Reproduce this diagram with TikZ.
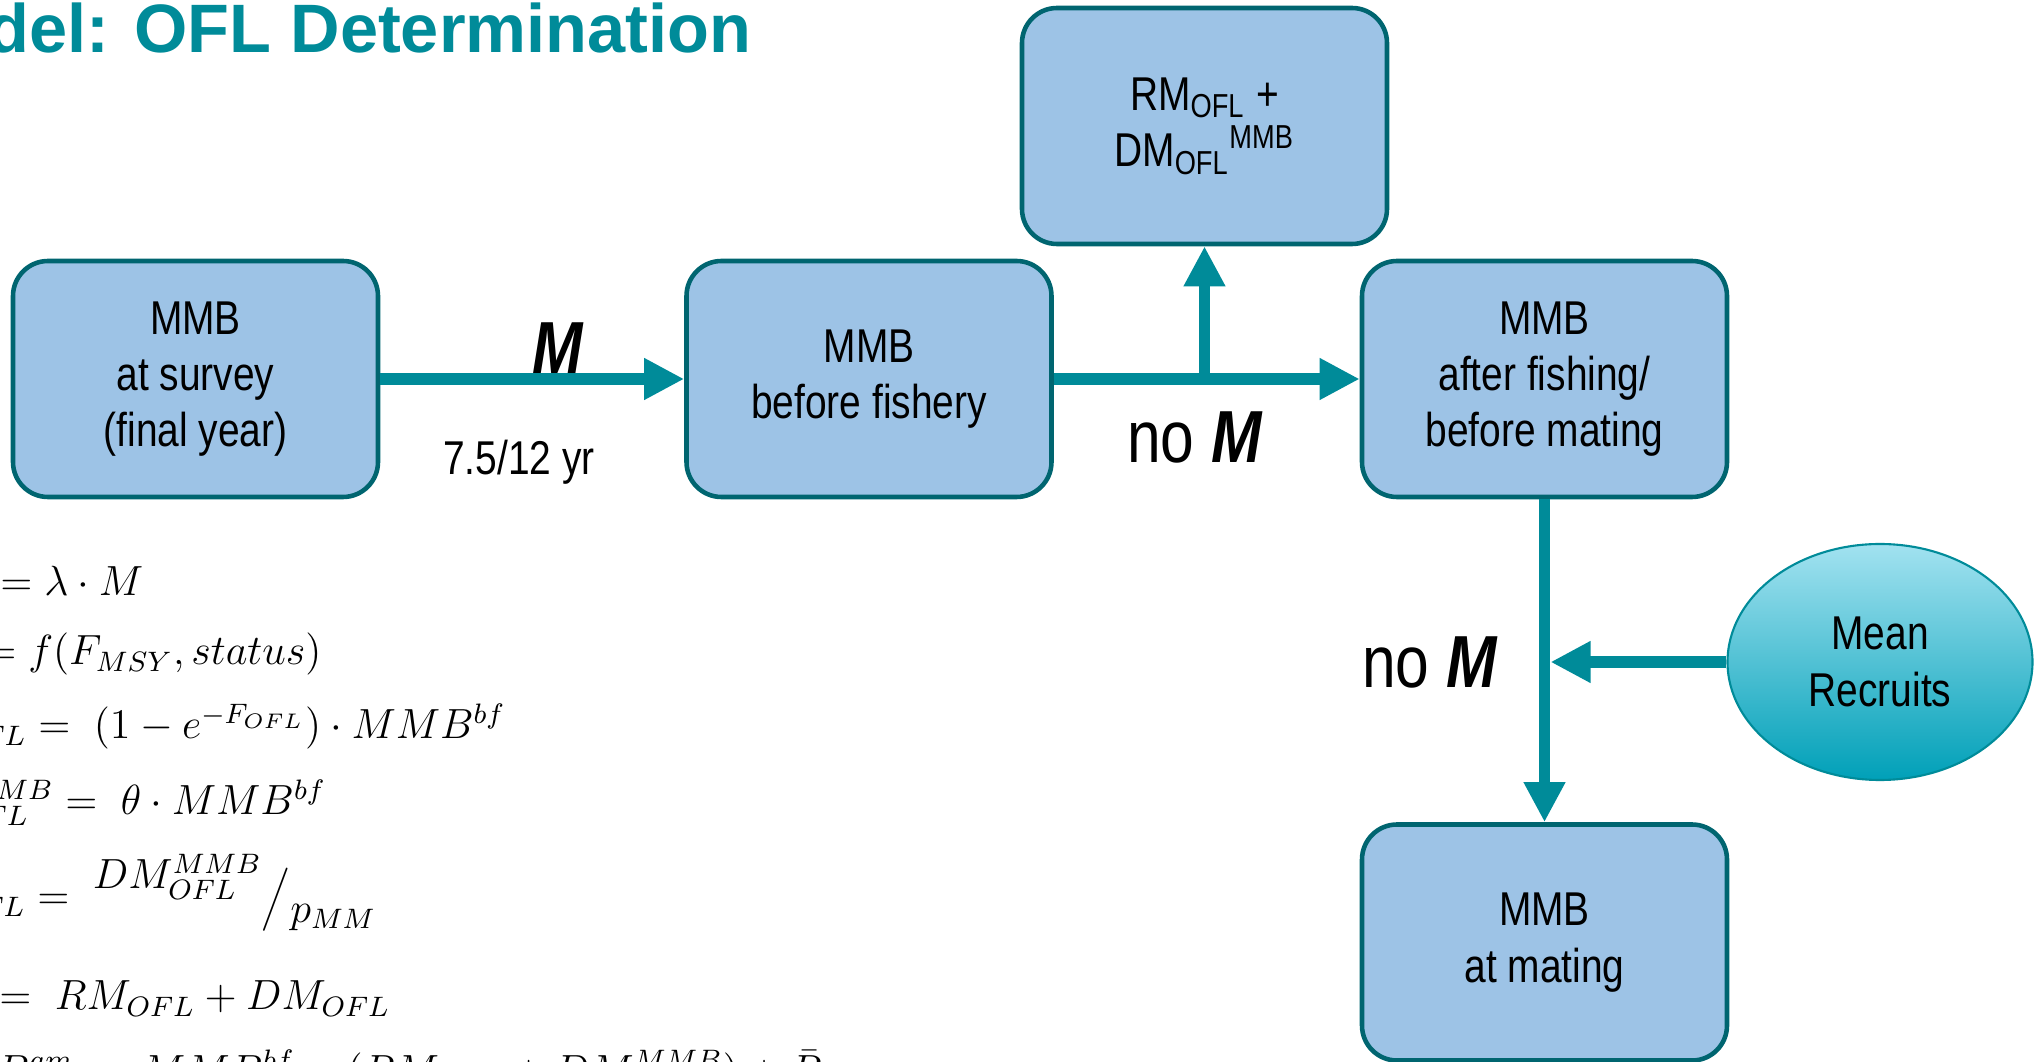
\documentclass[tikz,border=0pt]{standalone}
\usepackage{fontspec}
\setmainfont[FakeStretch=0.82]{Liberation Sans}
\newfontfamily\titlefont{Liberation Sans}
\usetikzlibrary{arrows.meta,shapes.geometric}

\definecolor{flowteal}{RGB}{0,139,153}
\definecolor{boxline}{RGB}{0,101,112}
\definecolor{boxfill}{RGB}{157,195,230}
\definecolor{reclight}{RGB}{162,226,240}
\definecolor{recdark}{RGB}{0,160,184}

\begin{document}
\begin{tikzpicture}
      [x=0.1mm,y=-0.1mm,
       stage/.style={draw=boxline,line width=1.3pt,fill=boxfill,rounded corners=3.5mm,
         minimum width=36.5mm,minimum height=23.6mm,align=center,
         font=\fontsize{13.5}{16}\selectfont},
       flow/.style={draw=flowteal,line width=3.4pt,-{Triangle[length=4mm,width=3.9mm]}},
       lbl/.style={inner sep=0pt,anchor=base,font=\fontsize{21}{24}\selectfont},
       fml/.style={inner sep=0pt,anchor=base west,font=\fontsize{12}{14}\selectfont}]
      \useasboundingbox (0,0) rectangle (2044,1062);
      \clip (0,0) rectangle (2044,1062);

      \node[anchor=base east,inner sep=0pt,text=flowteal,
            font=\titlefont\bfseries\fontsize{19.5}{22}\selectfont] (title) at (752,53)
            {Model: OFL Determination};

      % stages of the year
      \node[stage] (svy)   at (195.5,379) {MMB\\at survey\\(final year)};
      \node[stage] (bfish) at (869,379)   {MMB\\before fishery};
      \node[stage] (catch) at (1204.5,126)
            {RM\textsubscript{OFL} +\\DM\textsubscript{OFL}\textsuperscript{MMB}};
      \node[stage] (afish) at (1544.5,379) {MMB\\after fishing/\\before mating};
      \node[stage] (mate)  at (1544.5,942.5) {MMB\\at mating};
      \node[ellipse,minimum width=30.5mm,minimum height=23.6mm,
            top color=reclight,bottom color=recdark,draw=flowteal,line width=0.6pt,
            align=center,font=\fontsize{13.5}{16}\selectfont] (rec) at (1880,662)
            {Mean\\Recruits};

      \coordinate (split) at (bfish.east -| catch.south);
      \foreach \from/\to in {svy/bfish, bfish/afish, split/catch, afish/mate}
      \draw [flow] (\from) -- (\to);
      \draw [flow,shorten >=0.6mm] (rec) -- (rec.west -| afish.south);

      \node[lbl] (mlbl) at (558,374) {\textbf{\textit{M}}};
      \node[lbl,font=\fontsize{13.5}{16}\selectfont] (tlbl) at (519,475) {7.5/12 yr};
      \node[lbl] (nom1) at (1195,463) {no \textbf{\textit{M}}};
      \node[lbl] (nom2) at (1430,688) {no \textbf{\textit{M}}};

      % OFL equations
      \node[fml] (f1) at (-12,596)  {$\llap{$F_{MSY}$}= \lambda\cdot M$};
      \node[fml] (f2) at (-28,665)  {$\llap{$F_{OFL}$}= f(F_{MSY},status)$};
      \node[fml] (f3) at (26,739)   {$\llap{$RM_{OFL}$}= \;(1-e^{-F_{OFL}})\cdot MMB^{bf}$};
      \node[fml] (f4) at (53,815)   {$\llap{$DM_{OFL}^{MMB}$}= \;\theta\cdot MMB^{bf}$};
      \node[fml] (f5) at (25,910)   {$\llap{$DM_{OFL}$}= \;\raisebox{0.5em}{$DM_{OFL}^{MMB}$}\Big/\raisebox{-0.3em}{$p_{MM}$}$};
      \node[fml] (f6) at (-13,1010) {$\llap{$OFL$}= \;RM_{OFL}+DM_{OFL}$};
      \node[fml] (f7) at (73,1085)  {$\llap{$MMB^{am}$}= \;MMB^{bf}-(RM_{OFL}+DM_{OFL}^{MMB})+\bar{R}$};
    \end{tikzpicture}
\end{document}
